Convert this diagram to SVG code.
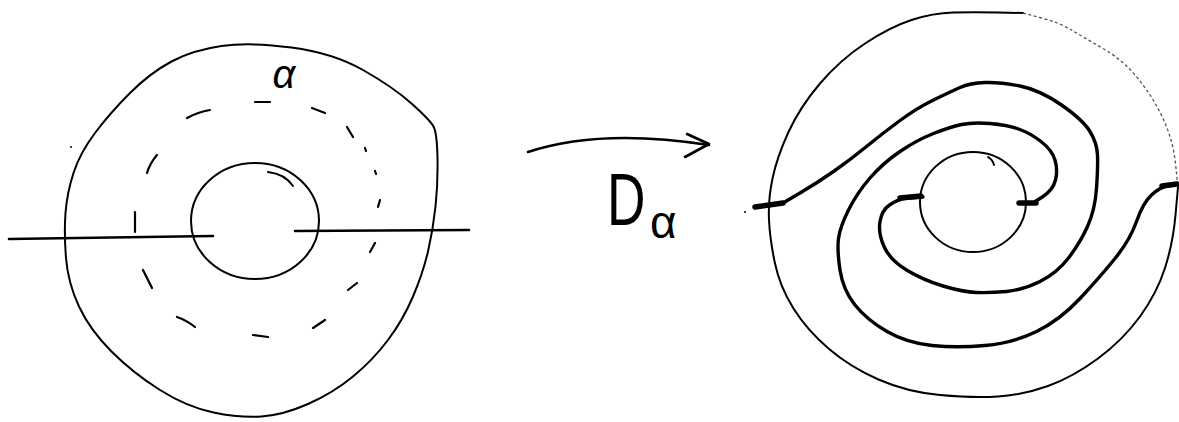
<svg xmlns="http://www.w3.org/2000/svg" width="1179" height="422" viewBox="0 0 1179 422">
<style>
.ln{fill:none;stroke:#000;stroke-linecap:round;stroke-linejoin:round}
.thin{stroke-width:2}
.med{stroke-width:2.6}
.thick{stroke-width:3.4}
.stub{stroke-width:5.5}
.dash{fill:none;stroke:#000;stroke-width:2.2;stroke-linecap:round}
.faint{fill:none;stroke:#555;stroke-width:1.3;stroke-dasharray:3 2.5}
.lbl{font-family:"Liberation Sans",Arial,sans-serif;fill:#000}
</style>
<rect width="1179" height="422" fill="#fff"/>
<g id="left-figure">
<path class="ln thin" d="M221.5,46 Q250,42 291.5,47.5 Q333,53 363,70 Q393,87 411.5,103.5 Q430,120 433.5,126.5 Q437,133 437.5,158 Q438,183 435.5,206.5 Q433,230 428,251.5 Q423,273 413,296.5 Q403,320 388,340 Q373,360 353,376.5 Q333,393 308,404 Q283,415 261.5,416.5 Q240,418 213.5,412.5 Q187,407 160,390 Q133,373 111.5,351.5 Q90,330 79,306.5 Q68,283 66,258 Q64,233 65.5,213 Q67,193 73.5,173 Q80,153 95,133 Q110,113 130,93 Q150,73 171.5,61.5 Q193,50 221.5,46 Z"/>
<ellipse class="ln thin" cx="255" cy="221" rx="64" ry="58"/>
<path class="ln thin" d="M268,172 Q285,174 293,186"/>
<path class="ln med" d="M9,239 L213,236"/>
<path class="ln med" d="M295,231 L469,230"/>
<g id="alpha-curve">
<path class="dash" d="M255,102 L270,102"/>
<path class="dash" d="M187,118 Q198,112 210,110"/>
<path class="dash" d="M312,108 L325,113"/>
<path class="dash" d="M347,127 L353,137"/>
<path class="dash" d="M365,148 L366,151"/>
<path class="dash" d="M375,171 L376,174"/>
<path class="dash" d="M380,200 L378,207"/>
<path class="dash" d="M375,243 L370,252"/>
<path class="dash" d="M357,283 L348,290"/>
<path class="dash" d="M325,320 L313,328"/>
<path class="dash" d="M253,335 L268,337"/>
<path class="dash" d="M177,317 Q186,320 195,327"/>
<path class="dash" d="M143,270 L152,288"/>
<path class="dash" d="M135,212 L135,232"/>
<path class="dash" d="M157,155 Q150,163 147,173"/>
</g>
<circle cx="71" cy="147" r="1" fill="#000"/>
<text class="lbl" x="284" y="88" font-size="40" text-anchor="middle" font-family="Liberation Serif, serif" font-style="italic">α</text>
</g>
<g id="connector-arrow">
<path class="ln med" d="M528,152 Q600,128 709,145"/>
<path class="ln med" d="M687,134 L709,144 L685,157"/>
<text class="lbl" transform="translate(607,225) scale(0.72,1)" font-size="74">D</text>
<text class="lbl" x="650" y="238" font-size="46">α</text>
</g>
<g id="right-figure">
<path class="ln thin" d="M1178,187 L1175.5,215 Q1173,243 1165,268 Q1157,293 1140,316.5 Q1123,340 1098,358.5 Q1073,377 1048,386 Q1023,395 998,396.5 Q973,398 940,395 Q907,392 878.5,379.5 Q850,367 828.5,348.5 Q807,330 793.5,308.5 Q780,287 775,263.5 Q770,240 769,220 Q768,200 772.5,178.5 Q777,157 788.5,132 Q800,107 820,83.5 Q840,60 865,43.5 Q890,27 911.5,20 Q933,13 953,12.5 Q973,12 998,12.5 L1023,13"/>
<path class="faint" d="M1023,13 L1041.5,18 Q1060,23 1071.5,30 Q1083,37 1103,48.5 Q1123,60 1138,78.5 Q1153,97 1163,118.5 Q1173,140 1175.5,163.5 L1178,187"/>
<ellipse class="ln thin" cx="973" cy="202" rx="53" ry="50"/>
<path class="ln thin" d="M988,157 Q993,160 994,165"/>
<path class="ln thick" d="M783,203 L800,193 Q817,183 833.5,171.5 Q850,160 866.5,146.5 Q883,133 900,120.5 Q917,108 933.5,100 Q950,92 960,87.5 Q970,83 985,82.5 Q1000,82 1020,86 Q1040,90 1061.5,105 Q1083,120 1090,131.5 Q1097,143 1097.5,155 Q1098,167 1096.5,188.5 Q1095,210 1087.5,226.5 Q1080,243 1068.5,258 Q1057,273 1040,281.5 Q1023,290 1006.5,291.5 Q990,293 976.5,292.5 Q963,292 943,286 Q923,280 906.5,270 Q890,260 884,246.5 Q878,233 880,221.5 Q882,210 889.5,205 Q897,200 903.5,198.5 L923,197"/>
<path class="ln thick" d="M1033,203 L1043,196.5 Q1053,190 1055.5,180 Q1058,170 1055,160 Q1052,150 1041,141.5 Q1030,133 1018.5,129 Q1007,125 990,123.5 Q973,122 961.5,124.5 Q950,127 933.5,133.5 Q917,140 900,151.5 Q883,163 870,178 Q857,193 848.5,210 Q840,227 838.5,238.5 Q837,250 840,270 Q843,290 855,305 Q867,320 887,331.5 Q907,343 932,345.5 Q957,348 985,345.5 Q1013,343 1036.5,331.5 Q1060,320 1080,298.5 Q1100,277 1115,258.5 Q1130,240 1136.5,221.5 Q1143,203 1151.5,195 Q1160,187 1169,185.5 L1178,184"/>
<path class="ln stub" d="M755,207 L783,203"/>
<path class="ln stub" d="M900,198 L921,196"/>
<path class="ln stub" d="M1019,203 L1036,203"/>
<path class="ln stub" d="M1162,186 L1177,184"/>
<circle cx="745" cy="212" r="1" fill="#000"/>
</g>
</svg>
